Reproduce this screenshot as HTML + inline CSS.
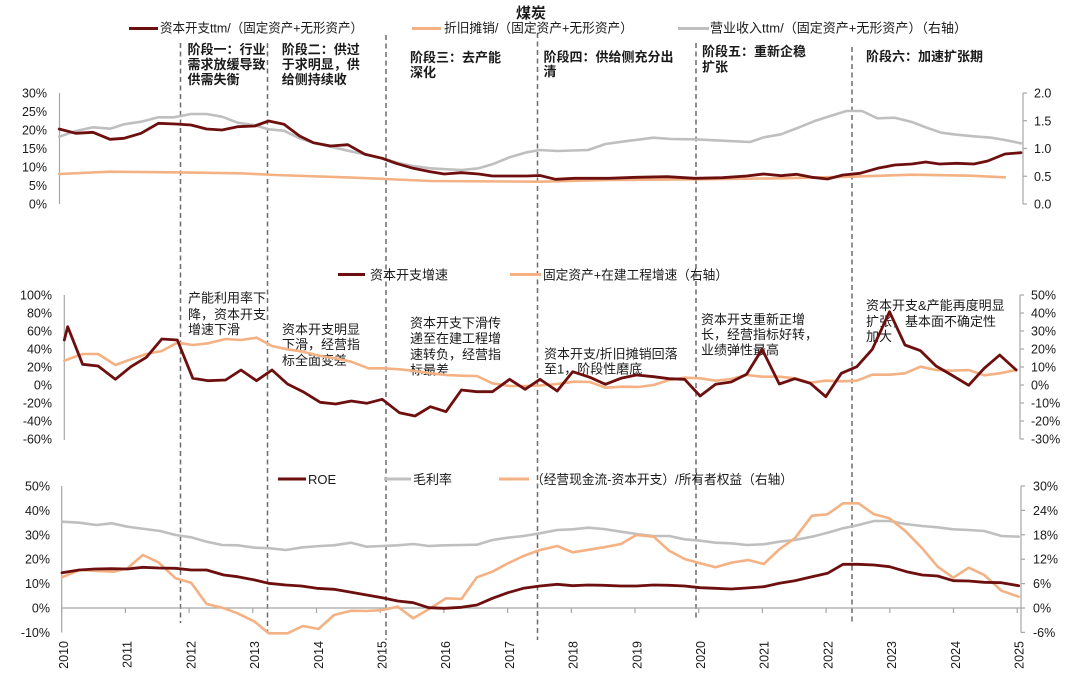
<!DOCTYPE html>
<html><head><meta charset="utf-8"><style>
html,body{margin:0;padding:0;background:#fff;}
svg{display:block;}
text{font-family:"Liberation Sans","Noto Sans CJK SC",sans-serif;fill:#1a1a1a;}
.ax{font-size:12.5px;}
.lg{font-size:13px;}
.an{font-size:13px;}
.bd{font-size:13px;font-weight:bold;}
</style></head><body>
<svg width="1080" height="682" viewBox="0 0 1080 682" xmlns="http://www.w3.org/2000/svg">
<rect width="1080" height="682" fill="#fff"/>

<!-- dashed phase lines -->
<g stroke="#6b6b6b" stroke-width="1.5" stroke-dasharray="5,3.5" fill="none">
<line x1="180.5" y1="43" x2="180.5" y2="623"/>
<line x1="267.5" y1="43" x2="267.5" y2="633"/>
<line x1="386" y1="35" x2="386" y2="640"/>
<line x1="537.5" y1="33" x2="537.5" y2="640"/>
<line x1="696" y1="43" x2="696" y2="620"/>
<line x1="852" y1="47" x2="852" y2="623"/>
</g>

<!-- Title -->
<text x="531" y="18" text-anchor="middle" style="font-size:15px;font-weight:bold">煤炭</text>

<!-- top legend -->
<line x1="129" y1="28.5" x2="158" y2="28.5" stroke="#6e0f0f" stroke-width="3"/>
<text class="lg" x="160" y="32.5" textLength="203" lengthAdjust="spacingAndGlyphs">资本开支ttm/（固定资产+无形资产）</text>
<line x1="412" y1="28.5" x2="441" y2="28.5" stroke="#f4b183" stroke-width="3"/>
<text class="lg" x="444" y="32.5" textLength="189" lengthAdjust="spacingAndGlyphs">折旧摊销/（固定资产+无形资产）</text>
<line x1="678" y1="28.5" x2="709" y2="28.5" stroke="#bfbfbf" stroke-width="3"/>
<text class="lg" x="710" y="32.5" textLength="257" lengthAdjust="spacingAndGlyphs">营业收入ttm/（固定资产+无形资产）（右轴）</text>

<!-- top annotations -->
<g>
<text class="bd" x="187.5" y="54">阶段一：行业</text>
<text class="bd" x="187.5" y="69">需求放缓导致</text>
<text class="bd" x="187.5" y="84">供需失衡</text>
<text class="bd" x="281.7" y="54">阶段二：供过</text>
<text class="bd" x="281.7" y="69">于求明显，供</text>
<text class="bd" x="281.7" y="84">给侧持续收</text>
<text class="bd" x="410" y="62">阶段三：去产能</text>
<text class="bd" x="410" y="77">深化</text>
<text class="bd" x="543.5" y="61.5">阶段四：供给侧充分出</text>
<text class="bd" x="543.5" y="76">清</text>
<text class="bd" x="702" y="56">阶段五：重新企稳</text>
<text class="bd" x="702" y="71.5">扩张</text>
<text class="bd" x="866" y="61">阶段六：加速扩张期</text>
</g>

<!-- top axes -->
<g stroke="#a6a6a6" stroke-width="1.2" fill="none">
<line x1="59.5" y1="93" x2="59.5" y2="204"/>
<line x1="1023" y1="93" x2="1023" y2="204"/>
<line x1="1023" y1="93" x2="1027" y2="93"/>
<line x1="1023" y1="120.75" x2="1027" y2="120.75"/>
<line x1="1023" y1="148.5" x2="1027" y2="148.5"/>
<line x1="1023" y1="176.25" x2="1027" y2="176.25"/>
<line x1="1023" y1="204" x2="1027" y2="204"/>
</g>
<g text-anchor="end">
<text class="ax" x="47" y="97.5">30%</text>
<text class="ax" x="47" y="116">25%</text>
<text class="ax" x="47" y="134.5">20%</text>
<text class="ax" x="47" y="153">15%</text>
<text class="ax" x="47" y="171.5">10%</text>
<text class="ax" x="47" y="190">5%</text>
<text class="ax" x="47" y="208.5">0%</text>
</g>
<g>
<text class="ax" x="1034" y="97.5">2.0</text>
<text class="ax" x="1034" y="125.25">1.5</text>
<text class="ax" x="1034" y="153">1.0</text>
<text class="ax" x="1034" y="180.75">0.5</text>
<text class="ax" x="1034" y="208.5">0.0</text>
</g>

<!-- top series -->
<g fill="none" stroke-linejoin="round" stroke-linecap="round">
<polyline stroke="#f4b183" stroke-width="2.6" points="59.2,174 110.2,171.7 172.2,172.3 241,173.3 275.5,175 344.4,177.3 385.7,179 430.4,181 540,181.7 608.9,180 695,179.3 781,178.3 850,176.7 911.9,174.7 970.4,175.7 1004.9,177.3"/>
<polyline stroke="#bfbfbf" stroke-width="2.6" points="59.2,136.7 75.8,131 93,127.3 110.2,128.7 124,124.3 141.2,121.7 158.4,117.3 174,117.3 191,114 206.6,114 222,116.7 237.6,122.7 254.8,125.3 268.6,129.3 284,130.7 299.6,138.3 313.4,142.7 330.6,146.7 347.8,150.7 365,154.3 382.2,158.3 399.4,163.3 413.2,166 430.4,168.3 447.7,169.3 461.4,170 478.7,168.3 492.4,164.3 509.6,157.3 526.9,152.3 540,150 557.2,151 588.2,150 605.4,144 629.5,140.7 653.6,137.7 670.9,139 695,139.3 722.5,140.7 750,142 763.8,137.3 781,134.3 798.3,127.7 815.5,120.7 832.7,115.3 846.5,111 862,111 877.5,118.3 894.7,117.7 911.9,122 925.7,127.3 941.2,132.7 956.7,134.7 973.9,136.3 991.1,137.7 1004.9,140 1021,143.3"/>
<polyline stroke="#6e0f0f" stroke-width="2.8" points="59.2,129 75.8,133.3 93,132.3 110,139.3 124,138.3 141,133.3 158.4,123.3 175.6,124 191,125 206.6,129 222,130 237.6,126.7 254.8,126 268.6,121 284,124.3 299.6,136 313.4,142.7 330.6,146 347.8,144.7 365,154.3 382.2,158.3 396,163.3 413.2,168.3 430.4,171.7 444.2,174 461.4,172.7 478.7,174 492.4,176 509.6,176 526.9,176 540,175.5 555.5,179.3 574.4,178.3 608.9,178.3 636.4,177.3 667.4,176.7 695,178.3 722.5,177.7 746.6,176 763.8,174 781,175.7 796.5,174.3 812,177.3 827.5,179 843,175 860,173.3 877.5,168.3 894.7,165 911.9,164 925.7,162 939.4,164 956.7,163.3 973.9,164 987.7,161 1004.9,154 1021,152.7"/>
</g>

<!-- middle legend -->
<line x1="338" y1="274.5" x2="365" y2="274.5" stroke="#6e0f0f" stroke-width="3"/>
<text class="lg" x="370" y="279.5">资本开支增速</text>
<line x1="510" y1="274.5" x2="541" y2="274.5" stroke="#f4b183" stroke-width="3"/>
<text class="lg" x="543" y="279.5" textLength="185" lengthAdjust="spacingAndGlyphs">固定资产+在建工程增速（右轴）</text>

<!-- middle axes -->
<g stroke="#a6a6a6" stroke-width="1.2" fill="none">
<line x1="64.3" y1="295" x2="64.3" y2="440"/>
<line x1="1020" y1="295" x2="1020" y2="439"/>
<line x1="1020" y1="295" x2="1024" y2="295"/>
<line x1="1020" y1="313" x2="1024" y2="313"/>
<line x1="1020" y1="331" x2="1024" y2="331"/>
<line x1="1020" y1="349" x2="1024" y2="349"/>
<line x1="1020" y1="367" x2="1024" y2="367"/>
<line x1="1020" y1="385" x2="1024" y2="385"/>
<line x1="1020" y1="403" x2="1024" y2="403"/>
<line x1="1020" y1="421" x2="1024" y2="421"/>
<line x1="1020" y1="439" x2="1024" y2="439"/>
</g>
<g text-anchor="end">
<text class="ax" x="52" y="299.5">100%</text>
<text class="ax" x="52" y="317.5">80%</text>
<text class="ax" x="52" y="335.5">60%</text>
<text class="ax" x="52" y="353.5">40%</text>
<text class="ax" x="52" y="371.5">20%</text>
<text class="ax" x="52" y="389.5">0%</text>
<text class="ax" x="52" y="407.5">-20%</text>
<text class="ax" x="52" y="425.5">-40%</text>
<text class="ax" x="52" y="443.5">-60%</text>
</g>
<g>
<text class="ax" x="1031" y="299.5">50%</text>
<text class="ax" x="1031" y="317.5">40%</text>
<text class="ax" x="1031" y="335.5">30%</text>
<text class="ax" x="1031" y="353.5">20%</text>
<text class="ax" x="1031" y="371.5">10%</text>
<text class="ax" x="1031" y="389.5">0%</text>
<text class="ax" x="1031" y="407.5">-10%</text>
<text class="ax" x="1031" y="425.5">-20%</text>
<text class="ax" x="1031" y="443.5">-30%</text>
</g>

<!-- middle annotations -->
<g>
<text class="an" x="188" y="302.5">产能利用率下</text>
<text class="an" x="188" y="319">降，资本开支</text>
<text class="an" x="188" y="334">增速下滑</text>
<text class="an" x="282" y="334">资本开支明显</text>
<text class="an" x="282" y="349">下滑，经营指</text>
<text class="an" x="282" y="365">标全面变差</text>
<text class="an" x="410" y="327.5">资本开支下滑传</text>
<text class="an" x="410" y="343">递至在建工程增</text>
<text class="an" x="410" y="359">速转负，经营指</text>
<text class="an" x="410" y="374.5">标最差</text>
<text class="an" x="544" y="358.5">资本开支/折旧摊销回落</text>
<text class="an" x="544" y="373.5">至1，阶段性磨底</text>
<text class="an" x="701" y="324">资本开支重新正增</text>
<text class="an" x="701" y="339">长，经营指标好转，</text>
<text class="an" x="701" y="354.5">业绩弹性最高</text>
<text class="an" x="866" y="310">资本开支&amp;产能再度明显</text>
<text class="an" x="866" y="326">扩张，基本面不确定性</text>
<text class="an" x="866" y="341">加大</text>
</g>

<!-- middle series -->
<g fill="none" stroke-linejoin="round" stroke-linecap="round">
<polyline stroke="#f4b183" stroke-width="2.6" points="64.3,360.7 82.6,354 98.1,354 115.4,365 130.9,359.3 146.4,354 161.8,351 177.3,342.7 192.8,345 208.3,343.3 225.6,339 241,340 256.5,337.7 272,346 287.5,349.3 303,351.7 320.2,356 335.7,358.3 351.2,361.7 368.5,368.3 384,368.3 399.4,369.3 415,371 430.4,373.3 446,375 461.4,375.7 476.9,376 492.4,383.3 509.6,386 525.1,386 540,385.5 557.2,384 574.4,381.7 589.9,382 605.4,387.7 622.6,386.7 638.1,387 653.6,385 669.1,380 684.6,377.7 700.1,378.3 715.6,380.7 731.1,379 746.6,375 762.1,376.7 779.3,376.7 794.8,378.3 810.3,382.7 825.8,380.7 841.3,381.3 856.8,380.7 872.3,374.7 889.5,374.7 905,373.3 920.5,366.7 936,370 951.5,370.7 968.7,370 984.2,375.3 999.7,373.3 1016.2,370"/>
<polyline stroke="#6e0f0f" stroke-width="2.8" points="64.3,340 67.7,326.7 82.6,364.3 98.1,366 115.4,379.3 130.9,366.7 146.4,357.3 161.8,339 177.3,340 192.8,378.3 208.3,380.7 225.6,380 241,370 256.5,380.7 272,370 287.5,384 303,391.7 320.2,402.3 335.7,404 351.2,401 366.7,403.3 382.2,399.3 399.4,412.7 415,416 430.4,406.7 446,411.7 461.4,390 476.9,391.7 492.4,391.7 509.6,379.3 525.1,389.3 540,379.3 557.2,391 572.7,371.7 589.9,377.3 605.4,384.3 620.9,378.3 636.4,375 653.6,376.7 669.1,378.7 684.6,379.3 700.1,396 715.6,384.3 731.1,382 746.6,374.3 762.1,349.3 779.3,384 794.8,378.7 810.3,383.3 825.8,396.7 841.3,373.3 856.8,366.7 872.3,349.3 889.5,311.7 905,345 920.5,350.7 936,366 951.5,375 968.7,385.3 984.2,368.3 999.7,355 1016.2,370"/>
</g>

<!-- bottom legend -->
<line x1="278" y1="479" x2="306" y2="479" stroke="#6e0f0f" stroke-width="3"/>
<text class="lg" x="308" y="484">ROE</text>
<line x1="384" y1="479" x2="411" y2="479" stroke="#bfbfbf" stroke-width="3"/>
<text class="lg" x="413" y="484">毛利率</text>
<line x1="499" y1="479" x2="529" y2="479" stroke="#f4b183" stroke-width="3"/>
<text class="lg" x="531" y="484" textLength="262" lengthAdjust="spacingAndGlyphs">（经营现金流-资本开支）/所有者权益（右轴）</text>

<!-- bottom axes -->
<g stroke="#a6a6a6" stroke-width="1.2" fill="none">
<line x1="61.7" y1="486" x2="61.7" y2="632.5"/>
<line x1="1021" y1="486" x2="1021" y2="632.5"/>
<line x1="61.7" y1="608" x2="1021" y2="608"/>
<line x1="1021" y1="486" x2="1025" y2="486"/>
<line x1="1021" y1="510.4" x2="1025" y2="510.4"/>
<line x1="1021" y1="534.8" x2="1025" y2="534.8"/>
<line x1="1021" y1="559.2" x2="1025" y2="559.2"/>
<line x1="1021" y1="583.6" x2="1025" y2="583.6"/>
<line x1="1021" y1="608" x2="1025" y2="608"/>
<line x1="1021" y1="632.4" x2="1025" y2="632.4"/>
<line x1="61.7" y1="608" x2="61.7" y2="613"/>
<line x1="125.4" y1="608" x2="125.4" y2="613"/>
<line x1="189.1" y1="608" x2="189.1" y2="613"/>
<line x1="252.8" y1="608" x2="252.8" y2="613"/>
<line x1="316.5" y1="608" x2="316.5" y2="613"/>
<line x1="380.2" y1="608" x2="380.2" y2="613"/>
<line x1="443.9" y1="608" x2="443.9" y2="613"/>
<line x1="507.6" y1="608" x2="507.6" y2="613"/>
<line x1="571.3" y1="608" x2="571.3" y2="613"/>
<line x1="635" y1="608" x2="635" y2="613"/>
<line x1="698.7" y1="608" x2="698.7" y2="613"/>
<line x1="762.4" y1="608" x2="762.4" y2="613"/>
<line x1="826.1" y1="608" x2="826.1" y2="613"/>
<line x1="889.8" y1="608" x2="889.8" y2="613"/>
<line x1="953.5" y1="608" x2="953.5" y2="613"/>
<line x1="1017.2" y1="608" x2="1017.2" y2="613"/>
</g>
<g text-anchor="end">
<text class="ax" x="50" y="490.5">50%</text>
<text class="ax" x="50" y="514.9">40%</text>
<text class="ax" x="50" y="539.3">30%</text>
<text class="ax" x="50" y="563.7">20%</text>
<text class="ax" x="50" y="588.1">10%</text>
<text class="ax" x="50" y="612.5">0%</text>
<text class="ax" x="50" y="636.9">-10%</text>
</g>
<g>
<text class="ax" x="1033" y="490.5">30%</text>
<text class="ax" x="1033" y="514.9">24%</text>
<text class="ax" x="1033" y="539.3">18%</text>
<text class="ax" x="1033" y="563.7">12%</text>
<text class="ax" x="1033" y="588.1">6%</text>
<text class="ax" x="1033" y="612.5">0%</text>
<text class="ax" x="1033" y="636.9">-6%</text>
</g>
<!-- year labels -->
<g text-anchor="end">
<text class="ax" transform="translate(68,641) rotate(-90)">2010</text>
<text class="ax" transform="translate(131.7,641) rotate(-90)">2011</text>
<text class="ax" transform="translate(195.4,641) rotate(-90)">2012</text>
<text class="ax" transform="translate(259.1,641) rotate(-90)">2013</text>
<text class="ax" transform="translate(322.8,641) rotate(-90)">2014</text>
<text class="ax" transform="translate(386.5,641) rotate(-90)">2015</text>
<text class="ax" transform="translate(450.2,641) rotate(-90)">2016</text>
<text class="ax" transform="translate(513.9,641) rotate(-90)">2017</text>
<text class="ax" transform="translate(577.6,641) rotate(-90)">2018</text>
<text class="ax" transform="translate(641.3,641) rotate(-90)">2019</text>
<text class="ax" transform="translate(705,641) rotate(-90)">2020</text>
<text class="ax" transform="translate(768.7,641) rotate(-90)">2021</text>
<text class="ax" transform="translate(832.4,641) rotate(-90)">2022</text>
<text class="ax" transform="translate(896.1,641) rotate(-90)">2023</text>
<text class="ax" transform="translate(959.8,641) rotate(-90)">2024</text>
<text class="ax" transform="translate(1023.5,641) rotate(-90)">2025</text>
</g>

<!-- bottom series -->
<g fill="none" stroke-linejoin="round" stroke-linecap="round">
<polyline stroke="#bfbfbf" stroke-width="2.6" points="62,521.7 79.2,522.7 96.4,525 111.9,523.3 127.4,526.7 144.6,529 160.1,531 175.6,535 191.1,537.3 206.6,541.7 222.1,545 237.6,545.3 254.8,547.7 270.3,548.3 285.8,550 303,547.3 320.2,546 334,545.3 351.2,542.7 366.7,546.7 382.2,546 397.7,545.3 413.2,544 428.7,546 444.2,545.3 461.4,545 476.9,544.7 492.4,540 507.9,537.7 523.4,536 540,533.3 557.2,530 572.7,529.3 588.2,527.7 603.7,529 620.9,531.7 636.4,534 653.6,536 669.1,536 684.6,539.3 700.1,540.7 715.6,542.7 731.1,543.3 746.6,545 763.8,544.3 779.3,541.7 794.8,540 812,536.7 827.5,532.7 843,528.3 858.5,525 874,521 889.5,521 905,524 922.2,526 937.7,527.3 953.2,529.3 968.7,530 984.2,531 1001.4,536 1018.7,536.7"/>
<polyline stroke="#f4b183" stroke-width="2.6" points="62,577.3 79.2,570 96.4,571 113.6,571.7 127.4,568.3 142.9,555 158.4,562.3 175.6,578.3 191.1,582.7 206.6,604 222.1,607.7 237.6,613.3 254.8,621.7 268.6,633.3 287.5,633.3 303,626 318.5,629 334,615 351.2,610.7 366.7,611 382.2,610 397.7,606.7 413.2,618.3 428.7,609.3 446,598.3 461.4,599 476.9,577.3 492.4,571.7 507.9,563.3 523.4,556 540,550 557.2,546 572.7,552.3 603.7,547.3 620.9,544 636.4,535 653.6,536.7 669.1,550.7 684.6,559 700.1,563.3 715.6,567.3 731.1,562.7 748.3,560 763.8,564 779.3,549.3 794.8,538.3 812,515.7 827.5,514.3 843,503.3 858.5,503.3 874,514.3 889.5,518.3 905,530.7 922.2,548.3 937.7,566.7 953.2,577.7 968.7,567.7 984.2,575 1001.4,590.7 1018.7,596.7"/>
<polyline stroke="#6e0f0f" stroke-width="2.8" points="62,572.7 79.2,570 94.7,569 111.9,568.7 127.4,569 142.9,567.3 158.4,568 175.6,568.3 191.1,570 206.6,570 223.8,575 237.6,576.7 254.8,580 268.6,583.3 285.8,585 301.3,586 316.8,588.3 334,589.3 351.2,592.3 366.7,595 382.2,597.7 397.7,601 413.2,602.7 428.7,607.7 444.2,608.3 461.4,607.3 476.9,605 492.4,598.3 507.9,592.7 523.4,588.3 540,586 557.2,584.3 572.7,585.7 588.2,585 603.7,585.3 620.9,586 636.4,586 653.6,585 669.1,585.3 684.6,586 700.1,587.7 715.6,588.3 731.1,589 746.6,588 763.8,586.7 779.3,583.3 794.8,580.7 812,576.7 827.5,573.3 843,564.3 858.5,564.3 874,565 889.5,566.7 906.7,571.7 922.2,575 937.7,576 953.2,580.7 968.7,581 984.2,582.3 1001.4,582.7 1018.7,585.7"/>
</g>
</svg>
</body></html>
